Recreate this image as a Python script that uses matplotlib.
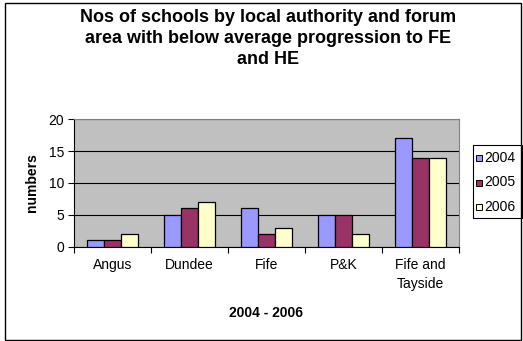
import matplotlib
matplotlib.use("Agg")
import matplotlib.pyplot as plt
import numpy as np
from matplotlib.patches import Rectangle

plt.rcParams['font.family'] = ['Liberation Sans', 'DejaVu Sans']

categories = ["Angus", "Dundee", "Fife", "P&K", "Fife and\nTayside"]
series_names = ["2004", "2005", "2006"]
v2004 = [1, 5, 6, 5, 17]
v2005 = [1, 6, 2, 5, 14]
v2006 = [2, 7, 3, 2, 14]
colors = ["#9999FF", "#993366", "#FFFFCC"]
title = "Nos of schools by local authority and forum\narea with below average progression to FE\nand HE"
xlabel = "2004 - 2006"
ylabel = "numbers"
yticks = [0, 5, 10, 15, 20]

W, H = 523, 341
fig = plt.figure(figsize=(W / 100, H / 100), dpi=100)
fig.patch.set_facecolor("white")

ax = fig.add_axes([74 / W, 1 - 246.7 / H, (459 - 74) / W, (246.7 - 119.3) / H])
ax.set_facecolor("#C0C0C0")

x = np.arange(len(categories))
bw = 0.225
for i, (vals, c, name) in enumerate(zip([v2004, v2005, v2006], colors, series_names)):
    ax.bar(x + (i - 1) * bw, vals, width=bw, color=c, edgecolor="black",
           linewidth=0.9, label=name, zorder=3)

ax.set_xlim(-0.5, len(categories) - 0.5)
ax.set_ylim(0, 20)
ax.set_yticks(yticks)
ax.set_yticklabels([str(t) for t in yticks], fontsize=10)
ax.yaxis.grid(True, color="black", linewidth=0.8, zorder=1)
ax.set_axisbelow(True)

# category ticks at boundaries, labels at centers
ax.set_xticks(np.arange(len(categories) + 1) - 0.5)
ax.set_xticklabels([])
ax.set_xticks(x, minor=True)
ax.set_xticklabels(categories, minor=True, fontsize=10, linespacing=1.45)
ax.tick_params(axis="x", which="minor", length=0, pad=8)
ax.tick_params(axis="x", which="major", length=4, width=0.8, direction="out")
ax.tick_params(axis="y", length=4, width=0.8, direction="out", pad=3)

for s in ["top", "right"]:
    ax.spines[s].set_color("#808080")
    ax.spines[s].set_linewidth(0.8)
for s in ["left", "bottom"]:
    ax.spines[s].set_color("black")
    ax.spines[s].set_linewidth(0.8)

fig.text(32 / W, 1 - 183 / H, ylabel, fontsize=10, fontweight="bold",
         ha="center", va="center", rotation=90)
fig.text(266 / W, 1 - 313 / H, xlabel, fontsize=10, fontweight="bold",
         ha="center", va="center")

fig.text(268 / W, 1 - 38.5 / H, title, fontsize=13, fontweight="bold",
         ha="center", va="center", linespacing=1.3)

# legend box
fig.add_artist(Rectangle((473 / W, 1 - 218 / H), (522 - 473) / W, (218 - 145) / H,
                         transform=fig.transFigure, facecolor="white",
                         edgecolor="black", linewidth=0.8))
for i, (name, c) in enumerate(zip(series_names, colors)):
    yc = 158 + 24.5 * i
    fig.add_artist(Rectangle((476 / W, 1 - (yc + 3) / H), 6 / W, 6 / H,
                             transform=fig.transFigure, facecolor=c,
                             edgecolor="black", linewidth=0.7))
    fig.text(484 / W, 1 - yc / H, name, fontsize=10, ha="left", va="center")

fig.add_artist(Rectangle((5 / W, 1 - 340 / H), (521 - 5) / W, (340 - 3) / H,
                         transform=fig.transFigure, fill=False,
                         edgecolor="black", linewidth=1.0))

fig.savefig("out.png", dpi=100)
